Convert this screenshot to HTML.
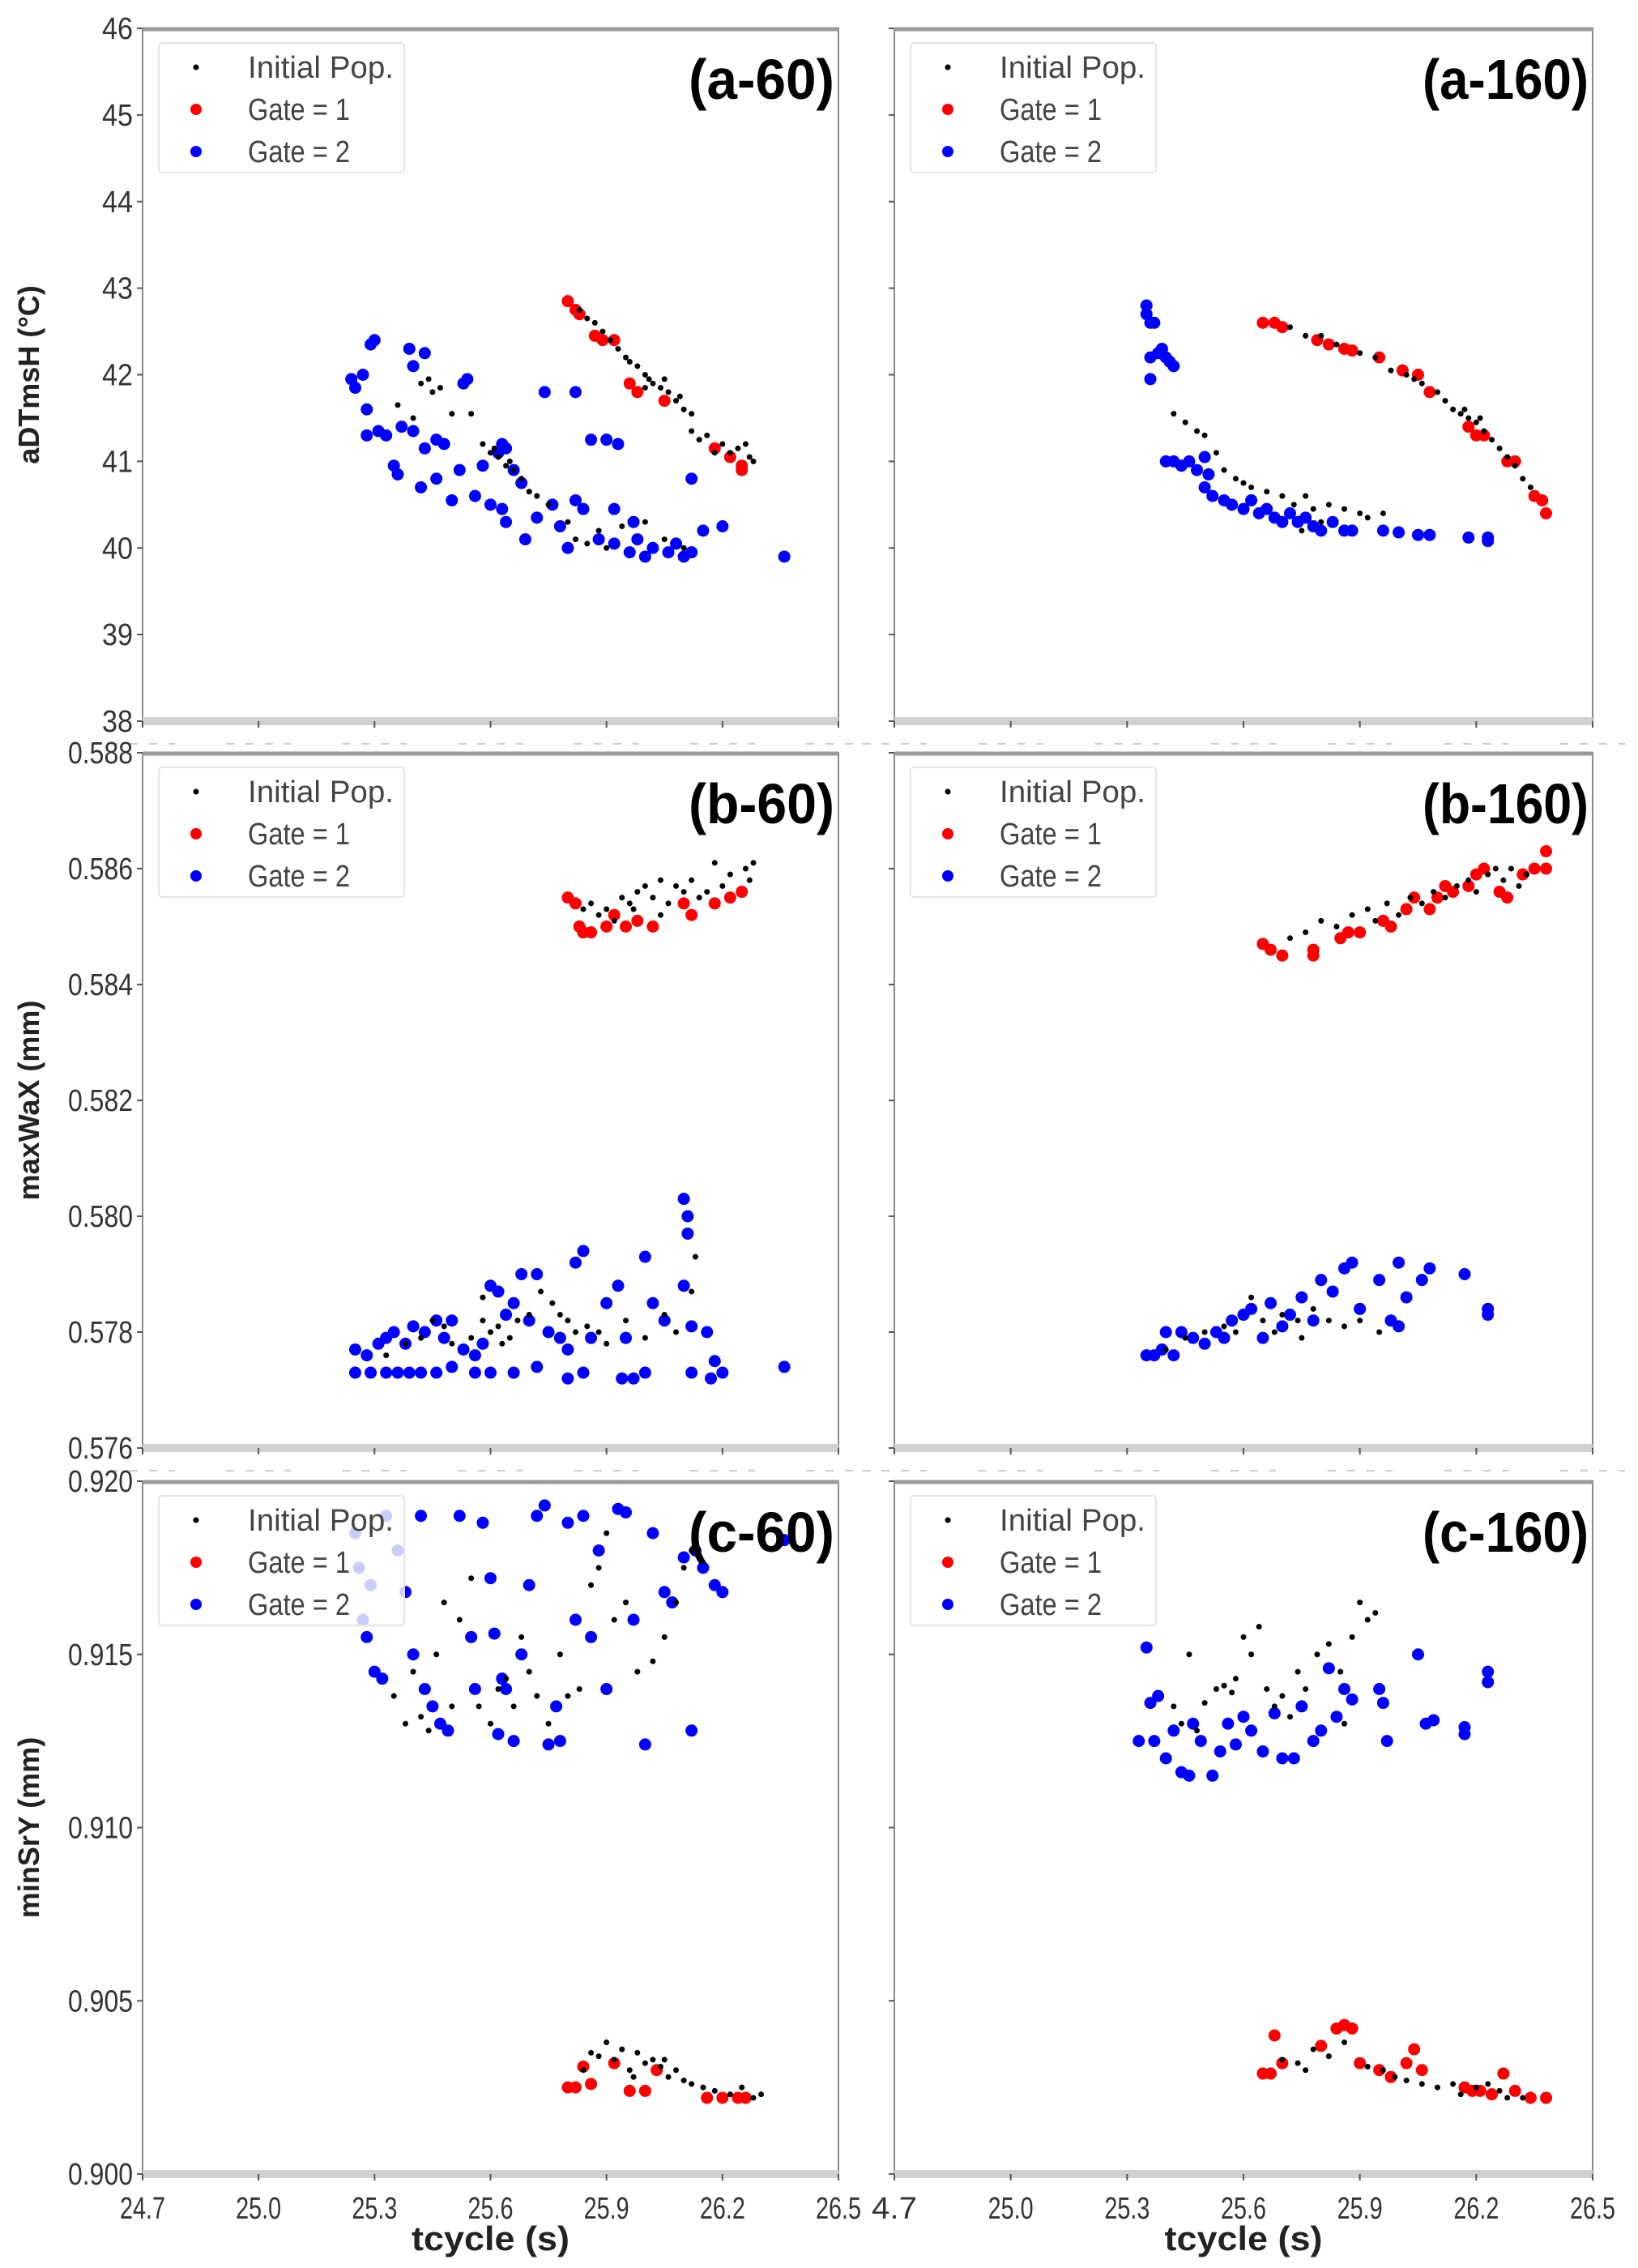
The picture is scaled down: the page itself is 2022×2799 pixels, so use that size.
<!DOCTYPE html>
<html><head><meta charset="utf-8"><style>
html,body{margin:0;padding:0;background:#fff}
svg{display:block}
text{font-family:"Liberation Sans",sans-serif}
</style></head><body>
<svg id="fig" width="2022" height="2799" viewBox="0 0 2022 2799" xmlns="http://www.w3.org/2000/svg"></svg>
<script>
// ---------- data ----------
const xTicks=[24.7,25.0,25.3,25.6,25.9,26.2,26.5];
const xTickLabelsL=["24.7","25.0","25.3","25.6","25.9","26.2","26.5"];
const xTickLabelsR=["4.7","25.0","25.3","25.6","25.9","26.2","26.5"];
const yTicksA=[38,39,40,41,42,43,44,45,46];
const yTicksB=[0.576,0.578,0.580,0.582,0.584,0.586,0.588];
const yTicksC=[0.900,0.905,0.910,0.915,0.920];
const yLabelsA=["38","39","40","41","42","43","44","45","46"];
const yLabelsB=["0.576","0.578","0.580","0.582","0.584","0.586","0.588"];
const yLabelsC=["0.900","0.905","0.910","0.915","0.920"];

const a60Black=[[25.83,42.75],[25.85,42.65],[25.87,42.6],[25.89,42.5],[25.91,42.4],[25.93,42.3],[25.95,42.2],[25.96,42.15],[25.98,42.1],[26.00,42.0],[26.01,41.95],[26.02,41.9],[26.04,41.85],[26.06,41.8],[26.08,41.7],[26.10,41.6],[26.12,41.55],[26.12,41.35],[26.14,41.25],[26.16,41.3],[26.18,41.1],[26.20,41.2],[26.22,41.1],[26.24,41.15],[26.26,41.2],[26.27,41.05],[26.28,41.0],[26.00,41.85],[26.05,41.95],[26.09,41.75],
[25.36,41.65],[25.40,41.5],[25.42,41.9],[25.44,41.95],[25.45,41.8],[25.47,41.85],[25.50,41.55],[25.55,41.55],[25.58,41.2],[25.60,41.1],[25.62,41.05],[25.64,40.95],[25.66,40.9],[25.68,40.8],[25.70,40.65],[25.72,40.6],[25.75,40.5],[25.80,40.3],[25.82,40.1],[25.85,40.05],[25.88,40.2],[25.90,40.0],[25.94,40.25],[26.00,40.3],[26.05,40.1],[26.10,40.0],[25.61,41.15],[25.65,41.0]];
const a60Red=[[25.80,42.85],[25.82,42.75],[25.83,42.7],[25.87,42.45],[25.89,42.4],[25.92,42.4],[25.96,41.9],[25.98,41.8],[26.05,41.7],[26.18,41.15],[26.22,41.05],[26.25,40.9],[26.25,40.95]];
const a60Blue=[[25.24,41.95],[25.25,41.85],[25.27,42.0],[25.29,42.35],[25.30,42.4],[25.28,41.6],[25.28,41.3],[25.31,41.35],[25.33,41.3],[25.35,40.95],[25.36,40.85],[25.39,42.3],[25.40,42.1],[25.43,42.25],[25.37,41.4],[25.40,41.35],[25.42,40.7],[25.43,41.15],[25.46,41.25],[25.48,41.2],[25.46,40.8],[25.50,40.55],[25.52,40.9],[25.53,41.9],[25.54,41.95],[25.56,40.6],[25.58,40.95],[25.62,41.1],[25.63,41.2],[25.64,41.15],[25.60,40.5],[25.63,40.45],[25.64,40.3],[25.66,40.9],[25.68,40.75],[25.69,40.1],[25.72,40.35],[25.74,41.8],[25.76,40.5],[25.78,40.25],[25.80,40.0],[25.82,41.8],[25.84,40.45],[25.86,41.25],[25.90,41.25],[25.93,41.2],[25.92,40.45],[25.92,40.05],[25.96,39.95],[25.97,40.3],[25.98,40.1],[26.00,39.9],[26.02,40.0],[26.06,39.95],[26.08,40.05],[26.10,39.9],[26.12,39.95],[26.12,40.8],[26.15,40.2],[26.20,40.25],[26.36,39.9],[25.88,40.1],[25.82,40.55]];

const a160Black=[[25.72,42.55],[25.76,42.45],[25.80,42.45],[25.84,42.35],[25.90,42.25],[25.94,42.2],[25.98,42.05],[26.02,42.0],[26.04,41.95],[26.06,41.9],[26.10,41.8],[26.12,41.7],[26.14,41.6],[26.16,41.55],[26.18,41.5],[26.20,41.45],[26.22,41.35],[26.24,41.25],[26.26,41.15],[26.28,41.05],[26.30,40.95],[26.32,40.8],[26.34,40.7],[26.17,41.6],[26.21,41.5],
[25.42,41.55],[25.45,41.45],[25.48,41.35],[25.50,41.3],[25.53,41.1],[25.55,40.9],[25.58,40.8],[25.60,40.75],[25.62,40.7],[25.66,40.65],[25.70,40.6],[25.73,40.5],[25.76,40.6],[25.78,40.45],[25.82,40.5],[25.86,40.45],[25.90,40.4],[25.92,40.35],[25.96,40.4],[25.80,40.3],[25.75,40.2]];
const a160Red=[[25.65,42.6],[25.68,42.6],[25.70,42.55],[25.79,42.4],[25.82,42.35],[25.86,42.3],[25.88,42.28],[25.95,42.2],[26.01,42.05],[26.05,42.0],[26.08,41.8],[26.18,41.4],[26.20,41.3],[26.22,41.3],[26.28,41.0],[26.30,41.0],[26.35,40.6],[26.37,40.55],[26.38,40.4]];
const a160Blue=[[25.35,42.8],[25.35,42.7],[25.36,42.6],[25.37,42.6],[25.36,42.2],[25.38,42.25],[25.39,42.3],[25.40,42.2],[25.41,42.15],[25.42,42.1],[25.36,41.95],[25.40,41.0],[25.42,41.0],[25.44,40.95],[25.46,41.0],[25.48,40.9],[25.50,41.05],[25.51,40.85],[25.50,40.7],[25.52,40.6],[25.55,40.55],[25.57,40.5],[25.60,40.45],[25.62,40.55],[25.64,40.4],[25.66,40.45],[25.68,40.35],[25.70,40.3],[25.72,40.4],[25.74,40.3],[25.76,40.35],[25.78,40.25],[25.80,40.2],[25.83,40.3],[25.86,40.2],[25.88,40.2],[25.96,40.2],[26.00,40.18],[26.05,40.15],[26.08,40.15],[26.18,40.12],[26.23,40.12],[26.23,40.08]];

const b60Black=[[25.84,0.5853],[25.86,0.5854],[25.88,0.5852],[25.90,0.5853],[25.92,0.5851],[25.94,0.5855],[25.96,0.5854],[25.98,0.5856],[26.00,0.5857],[26.02,0.5855],[26.04,0.5858],[26.06,0.5854],[26.08,0.5857],[26.10,0.5856],[26.12,0.5858],[26.14,0.5855],[26.16,0.5856],[26.18,0.5861],[26.20,0.5857],[26.22,0.5859],[26.26,0.5860],[26.28,0.5861],[26.27,0.5858],[26.04,0.5852],[25.97,0.5853],
[25.33,0.5776],[25.38,0.5778],[25.42,0.5779],[25.45,0.5782],[25.48,0.5781],[25.50,0.5778],[25.55,0.5779],[25.58,0.5782],[25.60,0.5780],[25.62,0.5781],[25.65,0.5779],[25.67,0.5782],[25.70,0.5783],[25.73,0.5787],[25.76,0.5785],[25.78,0.5783],[25.80,0.5782],[25.82,0.5780],[25.85,0.5781],[25.88,0.5780],[25.90,0.5778],[25.95,0.5782],[26.00,0.5779],[26.05,0.5783],[26.08,0.5780],[26.12,0.5787],[26.13,0.5793],[25.58,0.5786],[25.63,0.5778]];
const b60Red=[[25.80,0.5855],[25.82,0.5854],[25.83,0.5850],[25.84,0.5849],[25.86,0.5849],[25.90,0.5850],[25.92,0.5852],[25.95,0.5850],[25.98,0.5851],[26.02,0.5850],[26.10,0.5854],[26.12,0.5852],[26.18,0.5854],[26.22,0.5855],[26.25,0.5856]];
const b60Blue=[[25.25,0.5773],[25.29,0.5773],[25.33,0.5773],[25.36,0.5773],[25.39,0.5773],[25.42,0.5773],[25.46,0.5773],[25.50,0.5774],[25.56,0.5773],[25.60,0.5773],[25.66,0.5773],[25.72,0.5774],[25.80,0.5772],[25.84,0.5773],[25.94,0.5772],[25.97,0.5772],[26.00,0.5773],[26.12,0.5773],[26.17,0.5772],[26.20,0.5773],[26.36,0.5774],
[25.25,0.5777],[25.28,0.5776],[25.31,0.5778],[25.33,0.5779],[25.35,0.5780],[25.38,0.5778],[25.40,0.5781],[25.43,0.5780],[25.46,0.5782],[25.48,0.5779],[25.50,0.5782],[25.53,0.5777],[25.56,0.5776],[25.58,0.5778],[25.60,0.5788],[25.62,0.5787],[25.64,0.5783],[25.66,0.5785],[25.68,0.5790],[25.70,0.5782],[25.72,0.5790],[25.75,0.5780],[25.78,0.5779],[25.80,0.5777],[25.82,0.5792],[25.84,0.5794],[25.86,0.5779],[25.90,0.5785],[25.93,0.5788],[25.95,0.5779],[26.00,0.5793],[26.02,0.5785],[26.05,0.5782],[26.10,0.5803],[26.11,0.5800],[26.11,0.5797],[26.10,0.5788],[26.12,0.5781],[26.16,0.5780],[26.18,0.5775]];

const b160Black=[[25.72,0.5848],[25.76,0.5849],[25.80,0.5851],[25.84,0.5850],[25.88,0.5852],[25.92,0.5853],[25.94,0.5851],[25.97,0.5854],[26.00,0.5852],[26.03,0.5855],[26.06,0.5854],[26.09,0.5856],[26.12,0.5855],[26.15,0.5857],[26.18,0.5858],[26.20,0.5856],[26.23,0.5859],[26.25,0.5860],[26.27,0.5858],[26.29,0.5860],[26.31,0.5857],[26.33,0.5859],
[25.40,0.5777],[25.45,0.5779],[25.50,0.5780],[25.55,0.5781],[25.58,0.5780],[25.62,0.5786],[25.65,0.5782],[25.68,0.5780],[25.70,0.5783],[25.74,0.5782],[25.78,0.5784],[25.82,0.5782],[25.86,0.5781],[25.90,0.5782],[25.95,0.5780],[25.75,0.5779]];
const b160Red=[[25.65,0.5847],[25.67,0.5846],[25.70,0.5845],[25.78,0.5846],[25.78,0.5845],[25.85,0.5848],[25.87,0.5849],[25.90,0.5849],[25.96,0.5851],[25.98,0.5850],[26.02,0.5853],[26.04,0.5855],[26.08,0.5853],[26.10,0.5855],[26.12,0.5857],[26.14,0.5856],[26.18,0.5857],[26.20,0.5859],[26.22,0.5860],[26.26,0.5856],[26.28,0.5855],[26.32,0.5859],[26.35,0.5860],[26.38,0.5860],[26.38,0.5863]];
const b160Blue=[[25.35,0.5776],[25.37,0.5776],[25.39,0.5777],[25.40,0.5780],[25.42,0.5776],[25.44,0.5780],[25.47,0.5779],[25.50,0.5778],[25.53,0.5780],[25.55,0.5779],[25.57,0.5782],[25.60,0.5783],[25.62,0.5784],[25.65,0.5779],[25.67,0.5785],[25.70,0.5781],[25.72,0.5783],[25.75,0.5786],[25.78,0.5782],[25.80,0.5789],[25.83,0.5787],[25.86,0.5791],[25.88,0.5792],[25.90,0.5784],[25.95,0.5789],[25.98,0.5782],[26.00,0.5792],[26.02,0.5786],[26.06,0.5789],[26.08,0.5791],[26.17,0.5790],[26.23,0.5784],[26.23,0.5783],[26.00,0.5781]];

const c60Black=[[25.35,0.9138],[25.38,0.9130],[25.40,0.9145],[25.42,0.9132],[25.44,0.9128],[25.46,0.9150],[25.48,0.9165],[25.50,0.9135],[25.52,0.9160],[25.55,0.9172],[25.57,0.9135],[25.60,0.9130],[25.62,0.9140],[25.64,0.9143],[25.66,0.9135],[25.68,0.9155],[25.70,0.9145],[25.72,0.9138],[25.75,0.9130],[25.78,0.9150],[25.80,0.9138],[25.83,0.9140],[25.86,0.9170],[25.88,0.9175],[25.90,0.9185],[25.92,0.9160],[25.95,0.9165],[25.98,0.9145],[26.02,0.9148],[26.05,0.9155],[26.08,0.9165],[26.10,0.9175],[26.12,0.9180],
[25.84,0.9030],[25.86,0.9035],[25.88,0.9034],[25.90,0.9038],[25.92,0.9033],[25.94,0.9036],[25.96,0.9030],[25.98,0.9035],[26.00,0.9032],[26.02,0.9033],[26.04,0.9031],[26.06,0.9028],[26.08,0.9030],[26.10,0.9027],[26.12,0.9026],[26.15,0.9025],[26.18,0.9024],[26.22,0.9023],[26.25,0.9025],[26.28,0.9022],[26.30,0.9023],[25.97,0.9028],[26.05,0.9033]];
const c60Red=[[25.80,0.9025],[25.82,0.9025],[25.84,0.9031],[25.86,0.9026],[25.92,0.9032],[25.96,0.9024],[26.00,0.9024],[26.03,0.9030],[26.16,0.9022],[26.20,0.9022],[26.24,0.9022],[26.26,0.9022]];
const c60Blue=[[25.25,0.9185],[25.26,0.9175],[25.27,0.9160],[25.28,0.9155],[25.30,0.9145],[25.32,0.9143],[25.29,0.9170],[25.33,0.9190],[25.36,0.9180],[25.38,0.9168],[25.40,0.9150],[25.42,0.9190],[25.43,0.9140],[25.45,0.9135],[25.47,0.9130],[25.49,0.9128],[25.52,0.9190],[25.55,0.9155],[25.56,0.9140],[25.58,0.9188],[25.60,0.9172],[25.61,0.9156],[25.62,0.9127],[25.63,0.9143],[25.64,0.9140],[25.66,0.9125],[25.68,0.9150],[25.70,0.9170],[25.72,0.9190],[25.74,0.9193],[25.75,0.9124],[25.77,0.9135],[25.78,0.9125],[25.80,0.9188],[25.82,0.9160],[25.84,0.9190],[25.86,0.9155],[25.88,0.9180],[25.90,0.9140],[25.93,0.9192],[25.95,0.9191],[25.97,0.9160],[26.00,0.9124],[26.02,0.9185],[26.05,0.9168],[26.07,0.9165],[26.10,0.9178],[26.12,0.9128],[26.13,0.9180],[26.15,0.9175],[26.18,0.9170],[26.20,0.9168],[26.36,0.9183]];

const c160Black=[[25.42,0.9135],[25.44,0.9130],[25.46,0.9150],[25.48,0.9128],[25.50,0.9136],[25.53,0.9140],[25.55,0.9141],[25.57,0.9139],[25.58,0.9143],[25.60,0.9155],[25.62,0.9150],[25.64,0.9158],[25.66,0.9140],[25.68,0.9135],[25.70,0.9138],[25.72,0.9132],[25.74,0.9145],[25.76,0.9140],[25.79,0.9150],[25.82,0.9153],[25.85,0.9145],[25.88,0.9155],[25.90,0.9165],[25.92,0.9160],[25.94,0.9162],[25.86,0.9130],
[25.70,0.9033],[25.74,0.9032],[25.78,0.9036],[25.82,0.9034],[25.86,0.9038],[25.92,0.9031],[25.96,0.9030],[25.99,0.9028],[26.02,0.9027],[26.06,0.9026],[26.10,0.9025],[26.14,0.9026],[26.16,0.9023],[26.20,0.9025],[26.23,0.9026],[26.26,0.9024],[26.28,0.9022],[26.32,0.9022],[25.76,0.9030]];
const c160Red=[[25.65,0.9029],[25.67,0.9029],[25.68,0.9040],[25.70,0.9032],[25.80,0.9037],[25.84,0.9042],[25.86,0.9043],[25.88,0.9042],[25.90,0.9032],[25.95,0.9030],[25.98,0.9028],[26.02,0.9032],[26.04,0.9036],[26.06,0.9030],[26.17,0.9025],[26.19,0.9024],[26.21,0.9024],[26.24,0.9023],[26.27,0.9029],[26.30,0.9024],[26.34,0.9022],[26.38,0.9022]];
const c160Blue=[[25.33,0.9125],[25.35,0.9152],[25.36,0.9136],[25.37,0.9125],[25.38,0.9138],[25.40,0.9120],[25.42,0.9128],[25.44,0.9116],[25.46,0.9115],[25.47,0.9130],[25.49,0.9125],[25.52,0.9115],[25.54,0.9122],[25.56,0.9130],[25.58,0.9124],[25.60,0.9132],[25.62,0.9128],[25.65,0.9122],[25.68,0.9133],[25.70,0.9120],[25.73,0.9120],[25.75,0.9135],[25.78,0.9125],[25.80,0.9128],[25.82,0.9146],[25.84,0.9132],[25.86,0.9140],[25.88,0.9137],[25.95,0.9140],[25.96,0.9136],[25.97,0.9125],[26.05,0.9150],[26.07,0.9130],[26.09,0.9131],[26.17,0.9129],[26.17,0.9127],[26.23,0.9145],[26.23,0.9142]];

// ---------- drawing ----------
const NS="http://www.w3.org/2000/svg";
const svg=document.getElementById('fig');
function mk(tag,attrs,parent,txt){const e=document.createElementNS(NS,tag);for(const k in attrs)e.setAttribute(k,attrs[k]);if(txt!==undefined)e.textContent=txt;(parent||svg).appendChild(e);return e;}

const cols=[{x0:176,x1:1035,left:true},{x0:1104,x1:1966,left:false}];
const rows=[
 {y0:35,y1:890,min:38,max:46,ticks:yTicksA,labels:yLabelsA,key:'a',ylab:"aDTmsH (\u00B0C)",data:[[a60Black,a60Red,a60Blue],[a160Black,a160Red,a160Blue]]},
 {y0:929,y1:1787,min:0.576,max:0.588,ticks:yTicksB,labels:yLabelsB,key:'b',ylab:"maxWaX (mm)",data:[[b60Black,b60Red,b60Blue],[b160Black,b160Red,b160Blue]]},
 {y0:1828,y1:2683,min:0.900,max:0.920,ticks:yTicksC,labels:yLabelsC,key:'c',ylab:"minSrY (mm)",data:[[c60Black,c60Red,c60Blue],[c160Black,c160Red,c160Blue]]}
];

rows.forEach((r,ri)=>{
 cols.forEach((c,ci)=>{
  const tag=r.key+'-'+(ci?160:60);
  const g=mk('g',{});
  
  
  const sx=v=>c.x0+(v-24.7)/(26.5-24.7)*(c.x1-c.x0);
  const sy=v=>r.y1-(v-r.min)/(r.max-r.min)*(r.y1-r.y0);
  // frame
  const fr=mk('rect',{x:c.x0,y:r.y0,width:c.x1-c.x0,height:r.y1-r.y0,fill:'#fff',stroke:'#8a8a8a','stroke-width':2},g);
  
  
  mk('line',{x1:c.x0,x2:c.x1,y1:r.y0+1,y2:r.y0+1,stroke:'#9a9a9a','stroke-width':5},g);
  const band=mk('rect',{x:c.x0,y:r.y1-5,width:c.x1-c.x0,height:10,fill:'#d0d0d0'},g);
  
  
  // x ticks
  xTicks.forEach((t,i)=>{
   const tk=mk('line',{x1:sx(t),x2:sx(t),y1:r.y1,y2:r.y1+8,stroke:'#555','stroke-width':2},g);
   
   
   if(ri===2){
    const lbl=mk('text',{x:sx(t),y:2738,'text-anchor':'middle','font-size':38,fill:'#333',textLength:56,lengthAdjust:'spacingAndGlyphs'},g,(ci?xTickLabelsR:xTickLabelsL)[i]);
    
    
   } else {
    mk('line',{x1:sx(t)-40,x2:sx(t)+40,y1:r.y1+28,y2:r.y1+28,stroke:'#ccc','stroke-width':2,'stroke-dasharray':'10 14'},g);
   }
  });
  // y ticks
  r.ticks.forEach((t,i)=>{
   const tk=mk('line',{x1:c.x0-7,x2:c.x0,y1:sy(t),y2:sy(t),stroke:'#555','stroke-width':2},g);
   
   
   if(c.left){
    const s=r.labels[i];
    const lbl=mk('text',{x:164,y:sy(t)+13,'text-anchor':'end','font-size':38,fill:'#333',textLength:s.length>2?80:38,lengthAdjust:'spacingAndGlyphs'},g,s);
    
    
   }
  });
  // points
  const [blk,red,blu]=r.data[ci];
  blu.forEach(p=>{const e=mk('circle',{cx:sx(p[0]),cy:sy(p[1]),r:7.5,fill:'#0000ff'},g);});
  red.forEach(p=>{const e=mk('circle',{cx:sx(p[0]),cy:sy(p[1]),r:7.5,fill:'#ff0000'},g);});
  blk.forEach(p=>{const e=mk('circle',{cx:sx(p[0]),cy:sy(p[1]),r:3.5,fill:'#000'},g);});
  // legend
  const lg=mk('g',{},g);
  
  
  const lx=c.x0+20, ly=r.y0+18;
  mk('rect',{x:lx,y:ly,width:303,height:160,rx:4,fill:'#fff','fill-opacity':0.8,stroke:'#e4e4e4','stroke-width':2},lg);
  const ents=[["Initial Pop.",'#000',3.5],["Gate = 1",'#f00',7],["Gate = 2",'#00f',7]];
  ents.forEach((en,k)=>{
   const yy=ly+30+k*52;
   const it=mk('g',{},lg);
   
   
   mk('circle',{cx:lx+46,cy:yy,r:en[2],fill:en[1]},it);
   mk('text',{x:lx+110,y:yy+13,'font-size':38,fill:'#444',textLength:k?126:180,lengthAdjust:'spacingAndGlyphs'},it,en[0]);
  });
  // panel label
  const pl=mk('text',{x:c.x1-5,y:r.y0+87,'text-anchor':'end','font-size':70,'font-weight':'bold',fill:'#000',textLength:ci?205:180,lengthAdjust:'spacingAndGlyphs'},g,'('+tag+')');
  
  
 });
 // y axis title
 const cy=(r.y0+r.y1)/2;
 const yt=mk('text',{x:0,y:0,transform:`translate(48,${cy}) rotate(-90)`,'text-anchor':'middle','font-size':36,'font-weight':'bold',fill:'#222'},svg,r.ylab);
 
 
});
cols.forEach(c=>{
 const t=mk('text',{x:(c.x0+c.x1)/2,y:2777,'text-anchor':'middle','font-size':42,'font-weight':'bold',fill:'#222',textLength:195,lengthAdjust:'spacingAndGlyphs'},svg,'tcycle (s)');
 
 
});
</script>
</body></html>
